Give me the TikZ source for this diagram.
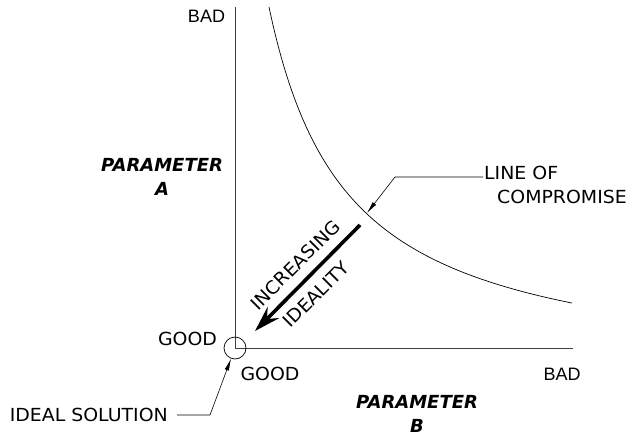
\documentclass[tikz,border=0pt]{standalone}
\usepackage{fontspec}
\usetikzlibrary{arrows.meta}
\newfontfamily\vfont{DejaVu Sans}[FakeStretch=1.05]
\newfontfamily\pfont{DejaVu Sans}
\newfontfamily\afont{Liberation Sans}
\tikzset{
  lbl/.style={inner sep=0pt, font=\vfont\fontsize{18}{22}\selectfont},
  albl/.style={inner sep=0pt, font=\afont\fontsize{18}{22}\selectfont},
  plbl/.style={inner sep=0pt, align=center, font=\pfont\bfseries\itshape\fontsize{18}{24}\selectfont},
  axis/.style={line width=0.9pt, black!75},
  leader/.style={line width=0.6pt, -{Latex[length=12pt,width=4.5pt]}},
  bigarrow/.style={line width=3.6pt, -{Stealth[length=26pt,width=16pt,inset=9pt]}}
}
\begin{document}
\begin{tikzpicture}[x=1pt,y=-1pt]
\useasboundingbox (0,0) rectangle (631,434);
% axes
\coordinate (top) at (235,7);
\coordinate (corner) at (235,348);
\coordinate (right) at (573,348);
\draw[axis] (top) -- (corner) -- (right);
\node[circle, draw, line width=0.7pt, minimum size=22pt, inner sep=0pt] (ideal) at (corner) {};
% line of compromise
\draw[line width=0.7pt] plot[domain=269:572, samples=150] (\x, {379.7 - 292.57/((\x-190.5)/100)});
% labels
\node[albl] (badA) at (206.5,16.5) {BAD};
\node[albl] (badB) at (562,374.5) {BAD};
\node[lbl] (goodA) at (187.5,339) {GOOD};
\node[lbl] (goodB) at (270,373.5) {GOOD};
\node[plbl] (parA) at (162,177) {PARAMETER\\A};
\node[plbl] (parB) at (417,413.5) {PARAMETER\\B};
\node[lbl, anchor=west] (lineof) at (484,172.5) {LINE OF};
\node[lbl, anchor=west] (compr) at (497,196.5) {COMPROMISE};
\node[lbl, anchor=east] (idealtxt) at (168,414.7) {IDEAL SOLUTION};
% leaders
\coordinate (lc1) at (483,177);
\coordinate (lc2) at (395,177);
\coordinate (lctip) at (367,213);
\draw[leader] (lc1) -- (lc2) -- (lctip);
\coordinate (is1) at (177,415);
\coordinate (is2) at (210,415);
\draw[leader] (is1) -- (is2) -- (ideal);
% ideality arrow
\coordinate (atail) at (360,225);
\coordinate (ahead) at (255,331);
\draw[bigarrow] (atail) -- (ahead);
\node[lbl, rotate=45] (incr) at (295.5,265) {INCREASING};
\node[lbl, rotate=45] (idty) at (316,294.5) {IDEALITY};
\end{tikzpicture}
\end{document}
